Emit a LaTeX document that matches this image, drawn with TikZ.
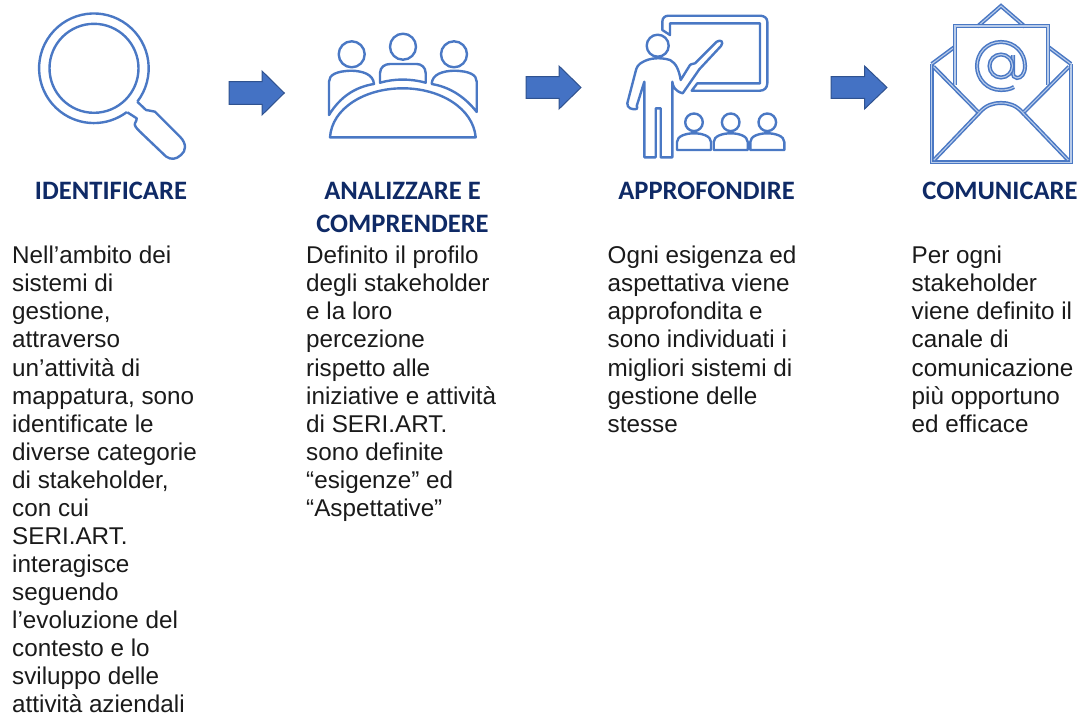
\documentclass[tikz,border=0pt]{standalone}
\usepackage{fontspec}
\setmainfont{Liberation Sans}
\newfontfamily\headfont{Carlito}
\definecolor{iconblue}{HTML}{4A78C4}
\definecolor{halo}{HTML}{B9CCEA}
\definecolor{arrowfill}{HTML}{4472C4}
\definecolor{arrowedge}{HTML}{2F528F}
\definecolor{headnavy}{HTML}{0F2A66}
\definecolor{bodyink}{HTML}{1A1A1A}
\tikzset{
  icon/.style={draw=iconblue,line width=2.4pt,line join=round},
  icondbl/.style={draw=iconblue,line width=1.5pt,double=halo,double distance=1.1pt,line join=miter},
  flow/.style={fill=arrowfill,draw=arrowedge,line width=1pt,line join=miter},
  headtext/.style={font=\headfont\bfseries\fontsize{26.6}{33}\selectfont,text=headnavy,align=center,inner sep=0pt},
  bodytext/.style={font=\fontsize{24.25}{28.06}\selectfont,text=bodyink,align=left,anchor=north west,inner sep=0pt},
}
\begin{document}
\begin{tikzpicture}[x=1pt,y=-1pt]
\useasboundingbox (0,0) rectangle (1081,715);
% magnifier
\draw[icon] (94,68.3) circle[radius=44.5];
\draw[icon] (137.3,101.7) arc[start angle=37.6,end angle=-307,radius=54.8];
\draw[icon] (137.3,101.7) -- (146,110) .. controls (149,111.5) and (152,110) .. (155,111.7) -- (180,136.7)
  .. controls (187,144) and (186,151) .. (181,155) .. controls (176,159.5) and (171,160) .. (166,156.5)
  -- (140,131.7) .. controls (136,128) and (134,125) .. (135,123.3) .. controls (136,121) and (137,119.5) .. (136.7,118.3) -- (127.3,112.3);
% meeting
\draw[icon] (351.7,54.3) circle[radius=13];
\draw[icon] (403,46.7) circle[radius=13];
\draw[icon] (454,54.3) circle[radius=13];
\draw[icon] (330,137.3) .. controls (332,108) and (365,88.3) .. (402.7,88.3) .. controls (440,88.3) and (473,108) .. (475.7,137.3) -- cycle;
\draw[icon] (380,82.7) -- (380,73.3) .. controls (380,67) and (385,64) .. (390,64) -- (416.7,64) .. controls (421,64) and (425.7,67) .. (425.7,73.3) -- (425.7,82.7) .. controls (410,78.5) and (395,78.5) .. (380,82.7) -- cycle;
\draw[icon] (329,115) -- (329,81.7) .. controls (329,75) and (336,71) .. (351.7,70.7) .. controls (362,71) and (373.3,74) .. (374,84) .. controls (355,87) and (340,97) .. (329,115) -- cycle;
\draw[icon] (476.7,112) -- (476.7,81.7) .. controls (476.7,75) and (470,71) .. (454,70.7) .. controls (443,71) and (432,74) .. (431.7,84) .. controls (450,87) and (465,97) .. (476.7,112) -- cycle;
% teacher
\draw[icon] (670,35) -- (662.3,30) -- (662.3,21.7) .. controls (662.3,18) and (665,15.7) .. (668.3,15.7) -- (760,15.7) .. controls (764,15.7) and (767.3,18) .. (767.3,21.7) -- (767.3,83.3) .. controls (767.3,88) and (764,90.7) .. (760,90.7) -- (691.7,90.7) -- (697.3,83.3) -- (760,83.3) -- (760,23.3) -- (670,23.3) -- cycle;
\draw[icon] (657.7,45.7) circle[radius=11];
\draw[icon] (680.7,80) .. controls (679,70) and (676,63) .. (670,60) .. controls (660,57) and (650,58) .. (643.3,61.7) .. controls (638,64) and (636.5,68) .. (636,70) -- (627.3,103.3) .. controls (627,108) and (632,110) .. (636.7,109) .. controls (638,108) and (636.7,106) .. (636.7,106) -- (644.3,81.7) -- (644.3,157.3) -- (655.7,157.3) -- (655.7,108.3) -- (660.7,108.3) -- (660.7,157.3) -- (672.3,157.3) -- (672.3,81.7) .. controls (673,87) and (675,91) .. (682.7,93.3) -- (699.3,69.3) -- (721,46) .. controls (724,42) and (721,39) .. (716.7,41.7) -- (695,63.3) .. controls (692,64) and (690,64.5) .. (690,65) -- cycle;
\foreach \sx in {694,730.7,767.3}{
  \draw[icon] (\sx,122.3) circle[radius=8.8];
  \draw[icon] (\sx-17,150) -- (\sx-17,142) .. controls (\sx-17,136) and (\sx-8,133.3) .. (\sx,133.3) .. controls (\sx+8,133.3) and (\sx+17,136) .. (\sx+17,142) -- (\sx+17,150) -- cycle;
}
% envelope
\draw[icondbl] (931.7,64) -- (931.7,162.3) -- (1071,162.3) -- (1071,64);
\draw[icondbl] (931.7,64) -- (955,46.7);
\draw[icondbl] (1071,64) -- (1048,46.7);
\draw[icondbl] (977.3,26.7) -- (1001,6) -- (1025,26.7);
\draw[icondbl] (955,85) -- (955,26) -- (1048,26) -- (1048,85);
\draw[icondbl] (933.5,66.7) -- (979,113) .. controls (986,105) and (993,103) .. (1001,103) .. controls (1009,103) and (1016,105) .. (1023,113) -- (1069,66.7);
\draw[icondbl] (934,160) -- (979,113);
\draw[icondbl] (1068,160) -- (1023,113);
\draw[icondbl] (1014,87) .. controls (1010,89.5) and (1005,90) .. (1001,90) .. controls (987,90) and (977,79) .. (977,66) .. controls (977,53) and (987,42) .. (1001,42) .. controls (1015,42) and (1025,53) .. (1025,66) .. controls (1025,74) and (1021,78) .. (1017,78) .. controls (1014,78) and (1013,76) .. (1013,72) -- (1013,55);
\draw[icondbl] (1001,66) circle[radius=11.5];
% flow arrows
\draw[flow] (229,81.7) -- (262,81.7) -- (262,71) -- (284.3,93) -- (262,115) -- (262,104.3) -- (229,104.3) -- cycle;
\draw[flow] (526,76.7) -- (559,76.7) -- (559,66) -- (581,87.5) -- (559,109) -- (559,98.3) -- (526,98.3) -- cycle;
\draw[flow] (831,76.7) -- (864.5,76.7) -- (864.5,66) -- (887,87.5) -- (864.5,109) -- (864.5,98.3) -- (831,98.3) -- cycle;
% headings
\node[headtext] (h1) at (111,191) {IDENTIFICARE};
\node[headtext] (h2) at (402.5,207.5) {ANALIZZARE E\\COMPRENDERE};
\node[headtext] (h3) at (706.5,191) {APPROFONDIRE};
\node[headtext] (h4) at (1000,191) {COMUNICARE};
% bodies
\node[bodytext] (b1) at (12,246) {Nell’ambito dei\\sistemi di\\gestione,\\attraverso\\un’attività di\\mappatura, sono\\identificate le\\diverse categorie\\di stakeholder,\\con cui\\SERI.ART.\\interagisce\\seguendo\\l’evoluzione del\\contesto e lo\\sviluppo delle\\attività aziendali};
\node[bodytext] (b2) at (306,246) {Definito il profilo\\degli stakeholder\\e la loro\\percezione\\rispetto alle\\iniziative e attività\\di SERI.ART.\\sono definite\\“esigenze” ed\\“Aspettative”};
\node[bodytext] (b3) at (607.5,246) {Ogni esigenza ed\\aspettativa viene\\approfondita e\\sono individuati i\\migliori sistemi di\\gestione delle\\stesse};
\node[bodytext] (b4) at (911.5,246) {Per ogni\\stakeholder\\viene definito il\\canale di\\comunicazione\\più opportuno\\ed efficace};
\end{tikzpicture}
\end{document}
